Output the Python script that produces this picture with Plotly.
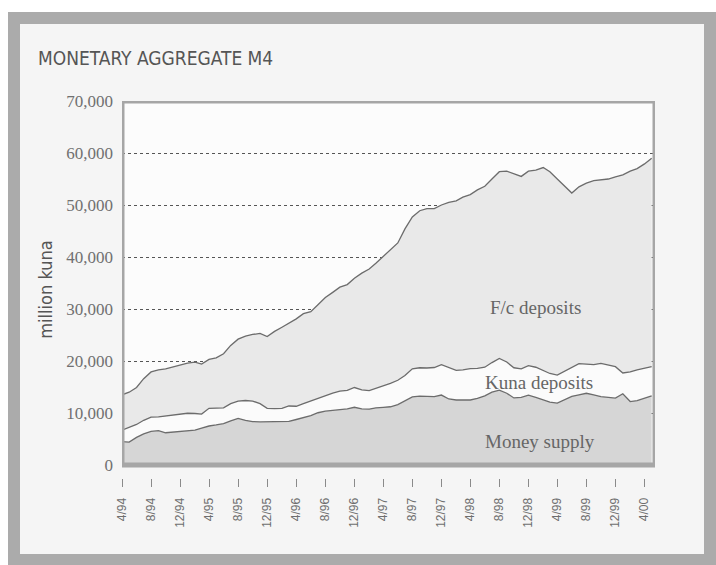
import pandas as pd
import plotly.graph_objects as go

# monthly values, million kuna, 4/94 .. 5/00
months = pd.date_range("1994-04-01", periods=74, freq="MS")

money_supply = [4500, 4400, 5300, 6000, 6450, 6600, 6200, 6350, 6500, 6600,
                6700, 7100, 7500, 7700, 7950, 8500, 8950, 8600, 8350, 8300,
                8330, 8300, 8330, 8400, 8750, 9050, 9500, 10050, 10350, 10500,
                10650, 10800, 11100, 10800, 10750, 11000, 11100, 11200, 11600, 12400,
                13100, 13250, 13200, 13150, 13450, 12700, 12500, 12500, 12500, 12800,
                13300, 14000, 14400, 13800, 12900, 13000, 13450, 13000, 12500, 12100,
                11900, 12500, 13200, 13500, 13800, 13500, 13150, 13000, 12850, 13700,
                12200, 12400, 12800, 13300]

kuna_deposits = [2200, 2800, 2500, 2600, 2750, 2650, 3200, 3350, 3350, 3350,
                 3200, 2700, 3400, 3250, 3050, 3300, 3350, 3800, 3950, 3500,
                 2570, 2550, 2570, 2950, 2550, 2750, 2800, 2850, 3050, 3300,
                 3550, 3550, 3800, 3650, 3550, 3700, 4150, 4500, 4700, 4800,
                 5400, 5450, 5450, 5600, 5850, 6100, 5700, 5800, 6050, 5800,
                 5500, 5700, 6100, 6000, 5800, 5500, 5650, 5800, 5600, 5500,
                 5400, 5500, 5600, 6000, 5600, 5800, 6400, 6200, 6050, 4000,
                 5700, 5900, 5800, 5600]

fc_deposits = [6800, 6800, 7100, 8000, 8700, 9050, 9100, 9200, 9450, 9650,
               9900, 9600, 9400, 9650, 10400, 11200, 11900, 12400, 12800, 13500,
               13800, 14850, 15600, 15850, 16800, 17300, 17200, 17900, 18800, 19400,
               20000, 20350, 21000, 22450, 23400, 24100, 24850, 25600, 26400, 28200,
               29200, 30200, 30650, 30550, 30700, 31700, 32600, 33200, 33450, 34300,
               34800, 35300, 35900, 36700, 37300, 37000, 37400, 37900, 39100, 38800,
               37700, 35600, 33500, 34000, 34800, 35400, 35350, 35800, 36500, 38100,
               38600, 38700, 39300, 40100]

tick_dates = pd.date_range("1994-04-01", "2000-04-01", freq="4MS")
tick_text = [f"{d.month}/{d.year % 100:02d}" for d in tick_dates]
y_ticks = list(range(0, 70001, 10000))

line_col = "#6c6c6c"
fig = go.Figure()
for name, vals, fc in [("Money supply", money_supply, "#d6d6d6"),
                       ("Kuna deposits", kuna_deposits, "#fbfbfb"),
                       ("F/c deposits", fc_deposits, "#e9e9e9")]:
    fig.add_trace(go.Scatter(x=months, y=vals, name=name, stackgroup="m4",
                             mode="lines", line=dict(color=line_col, width=1.3),
                             fillcolor=fc))

x0, x1 = "1994-04-01", "2000-05-15"

# page frame and plot frame
fig.add_shape(type="rect", xref="paper", yref="paper", layer="below",
              x0=(14 - 122) / 533, x1=(710 - 122) / 533,
              y0=(478 - 560) / 377, y1=(478 - 18) / 377,
              fillcolor="#f5f5f5", line=dict(color="#ababab", width=12))
fig.add_shape(type="rect", xref="x", yref="y", layer="below",
              x0=x0, x1=x1, y0=0, y1=70000, fillcolor="#fcfcfc", line_width=0)
fig.add_shape(type="rect", xref="x", yref="y", layer="above",
              x0=x0, x1=x1, y0=0, y1=70000,
              line=dict(color="#a6a6a6", width=5))

serif = "Liberation Serif, DejaVu Serif, serif"
narrow = "DejaVu Sans Condensed, Liberation Sans Narrow, sans-serif"
for txt, xd, yv in [("F/c deposits", "1999-01-01", 30200),
                    ("Kuna deposits", "1999-01-15", 15800),
                    ("Money supply", "1999-01-20", 4600)]:
    fig.add_annotation(x=xd, y=yv, text=txt, showarrow=False,
                       font=dict(family=serif, size=19, color="#666666"))

fig.update_layout(
    width=716, height=565,
    margin=dict(l=122, r=61, t=101, b=87),
    paper_bgcolor="white", plot_bgcolor="rgba(0,0,0,0)",
    showlegend=False,
    title=dict(text="MONETARY AGGREGATE M4", xref="container", yref="container",
               x=38 / 716, xanchor="left", y=1 - 58 / 565, yanchor="middle",
               font=dict(family=narrow, size=19, color="#555555")),
)
fig.update_xaxes(type="date", range=[x0, x1], tickvals=tick_dates, ticktext=tick_text,
                 tickangle=-90, ticks="outside", ticklen=8, tickwidth=1.2,
                 tickcolor="#8a8a8a", showgrid=False, showline=False, zeroline=False,
                 ticklabelstandoff=6,
                 tickfont=dict(family="Liberation Sans, Arial, sans-serif", size=12,
                               color="#6e6e6e"))
fig.update_yaxes(range=[-2500, 70000], tickvals=y_ticks, tickformat=",",
                 showgrid=True, gridcolor="#555555", gridwidth=1.2, griddash="dot",
                 zeroline=False, showline=False, ticks="", ticklabelstandoff=8,
                 tickfont=dict(family=serif, size=17, color="#707070"),
                 title=dict(text="million kuna", standoff=8,
                            font=dict(family=narrow, size=18, color="#555555")))

fig.write_html("out.html", config={"displayModeBar": False},
               post_script="document.body.style.margin='0';")
